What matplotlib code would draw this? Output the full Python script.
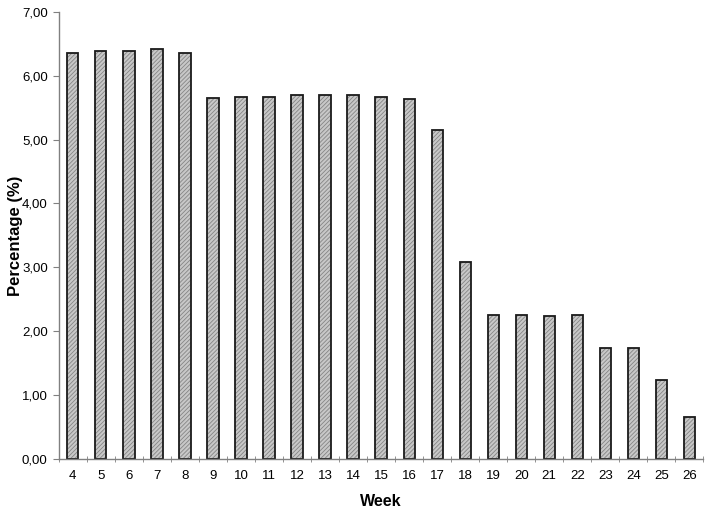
import matplotlib
matplotlib.use("Agg")
import matplotlib.pyplot as plt
import numpy as np
from matplotlib.ticker import FuncFormatter

plt.rcParams['font.family'] = ['Liberation Sans', 'DejaVu Sans']
plt.rcParams['hatch.linewidth'] = 0.6

weeks = [4, 5, 6, 7, 8, 9, 10, 11, 12, 13, 14, 15, 16, 17, 18, 19, 20, 21, 22, 23, 24, 25, 26]
percent = [6.36, 6.39, 6.39, 6.42, 6.36, 5.65, 5.67, 5.67, 5.70, 5.69, 5.70, 5.67, 5.63,
           5.15, 3.09, 2.26, 2.26, 2.23, 2.26, 1.73, 1.73, 1.24, 0.66]

x = np.arange(len(weeks))

fig = plt.figure(figsize=(7.09, 5.11), dpi=100, facecolor="w")
ax = fig.add_axes([0.083, 0.102, 0.909, 0.875])

# relleno gris con rayado fino, luego el contorno negro
ax.bar(x, percent, width=0.4, color="#c8c8c8", edgecolor="#858585", hatch="////////", linewidth=0)
ax.bar(x, percent, width=0.4, fill=False, edgecolor="#1a1a1a", linewidth=1.3)

ax.set_xlim(-0.5, len(weeks) - 0.5)
ax.set_ylim(0, 7)
ax.set_yticks(np.arange(0, 7.01, 1))
ax.yaxis.set_major_formatter(FuncFormatter(lambda v, p: f"{v:.2f}".replace(".", ",")))

ax.set_xticks(x)
ax.set_xticklabels([str(w) for w in weeks])
ax.set_xticks(np.arange(-0.5, len(weeks), 1), minor=True)
ax.tick_params(axis="x", which="major", length=0, pad=8, labelsize=9.5)
ax.tick_params(axis="x", which="minor", length=4, direction="inout", color="#808080")
ax.tick_params(axis="y", length=4, color="#808080", labelsize=9.5, pad=4)

for s in ["top", "right"]:
    ax.spines[s].set_visible(False)
for s in ["left", "bottom"]:
    ax.spines[s].set_color("#808080")
    ax.spines[s].set_linewidth(1.0)

ax.set_xlabel("Week", fontsize=11.5, fontweight="bold", labelpad=9)
ax.set_ylabel("Percentage (%)", fontsize=12, fontweight="bold")
ax.yaxis.set_label_coords(-0.055, 0.5)

fig.savefig("out.png", dpi=100)
